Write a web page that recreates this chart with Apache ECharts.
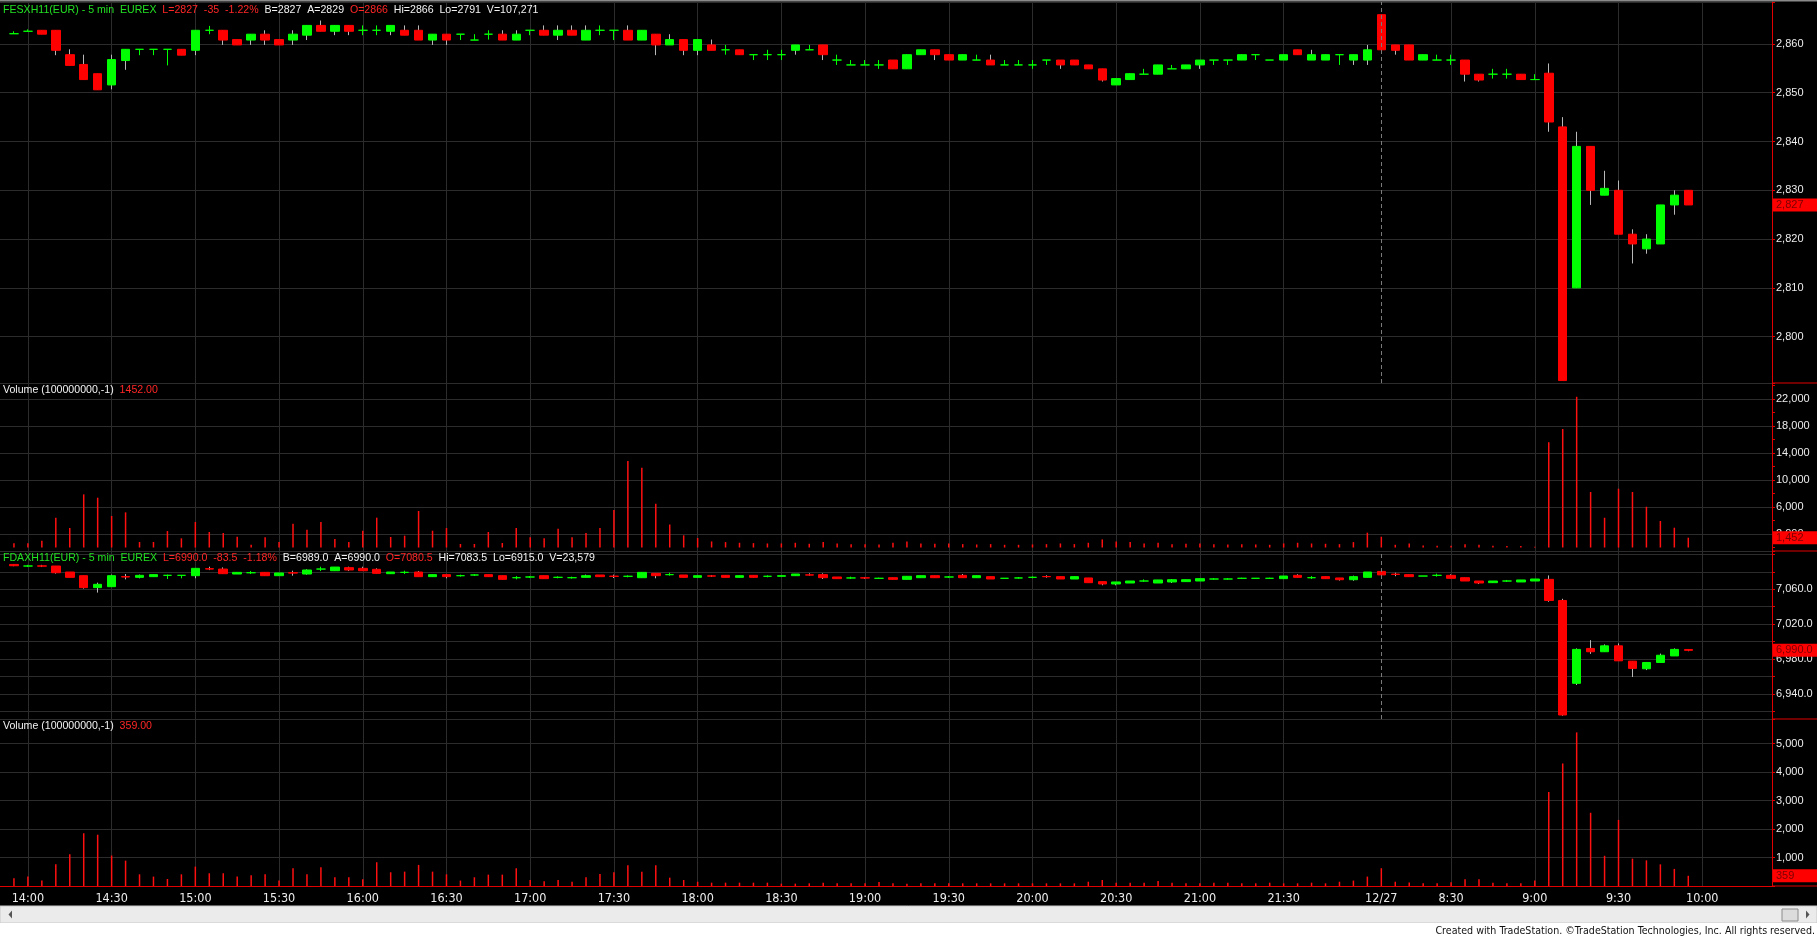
<!DOCTYPE html>
<html><head><meta charset="utf-8">
<script src="https://cdn.jsdelivr.net/npm/echarts@6/dist/echarts.min.js"></script>
<style>html,body{margin:0;padding:0;background:#000;overflow:hidden}#c{width:1817px;height:938px}</style>
</head><body><div id="c"></div><script>
// ---------- categories (5-minute bars) ----------
const day1Label = '12/23', day2Label = '12/27';
const padBefore = ['13:50'];
const day1Times = ['13:55',
 '14:00','14:05','14:10','14:15','14:20','14:25','14:30','14:35','14:40','14:45','14:50','14:55',
 '15:00','15:05','15:10','15:15','15:20','15:25','15:30','15:35','15:40','15:45','15:50','15:55',
 '16:00','16:05','16:10','16:15','16:20','16:25','16:30','16:35','16:40','16:45','16:50','16:55',
 '17:00','17:05','17:10','17:15','17:20','17:25','17:30','17:35','17:40','17:45','17:50','17:55',
 '18:00','18:05','18:10','18:15','18:20','18:25','18:30','18:35','18:40','18:45','18:50','18:55',
 '19:00','19:05','19:10','19:15','19:20','19:25','19:30','19:35','19:40','19:45','19:50','19:55',
 '20:00','20:05','20:10','20:15','20:20','20:25','20:30','20:35','20:40','20:45','20:50','20:55',
 '21:00','21:05','21:10','21:15','21:20','21:25','21:30','21:35','21:40','21:45','21:50','21:55',
 '22:00'];
const day2Times = ['8:05','8:10','8:15','8:20','8:25','8:30','8:35','8:40','8:45','8:50','8:55',
 '9:00','9:05','9:10','9:15','9:20','9:25','9:30','9:35','9:40','9:45','9:50','9:55'];
const padAfter = ['10:00','10:05','10:10','10:15','10:20','10:25'];
const day1GridTimes = ['14:00','14:30','15:00','15:30','16:00','16:30','17:00','17:30','18:00','18:30','19:00','19:30','20:00','20:30','21:00','21:30'];
const day2GridTimes = ['8:30','9:00','9:30','10:00'];

// ---------- FESX (Euro Stoxx 50 future) ----------
const fesxOpen = [2862.1,2862.6,2862.8,2862.8,2857.8,2855.8,2853.9,2851.6,2856.6,2858.9,
2858.9,2858.9,2858.9,2858.7,2862.8,2862.8,2860.9,2860.8,2862.0,2860.9,
2860.8,2861.8,2863.8,2862.6,2863.8,2862.8,2862.8,2862.6,2862.8,2862.8,
2860.8,2862.0,2862.0,2860.8,2862.0,2862.0,2860.8,2862.8,2862.8,2861.8,
2862.8,2860.8,2862.8,2862.8,2862.8,2860.8,2862.0,2859.8,2860.9,2858.7,
2859.8,2858.8,2858.8,2857.8,2857.8,2857.8,2858.7,2858.8,2859.8,2856.7,
2855.7,2855.7,2855.7,2856.7,2854.9,2857.8,2858.8,2857.8,2856.7,2856.7,
2856.7,2855.7,2855.7,2855.7,2856.7,2856.7,2856.7,2855.7,2854.9,2851.6,
2852.7,2853.8,2853.8,2854.9,2854.9,2855.7,2856.7,2856.7,2856.7,2857.8,
2856.7,2856.7,2858.8,2856.7,2856.7,2857.8,2856.7,2856.7,2866.0,2859.8,
2859.8,2856.7,2856.7,2856.7,2856.7,2853.8,2853.8,2853.8,2853.8,2852.7,
2854,2843,2810,2839,2829,2830,2821,2818,2819,2827,2830];
const fesxClose = [2862.1,2862.6,2862.0,2858.7,2855.6,2852.7,2850.6,2856.8,2858.9,2858.9,
2858.9,2858.9,2857.7,2862.8,2862.8,2860.8,2859.8,2862.0,2860.8,2859.8,
2862.0,2863.8,2862.6,2863.8,2862.6,2862.8,2862.8,2863.8,2861.8,2860.8,
2862.0,2860.8,2862.0,2860.8,2862.0,2860.8,2862.0,2862.8,2861.8,2862.8,
2861.8,2862.8,2862.8,2862.8,2860.8,2862.8,2859.8,2860.9,2858.7,2860.9,
2858.7,2858.8,2857.8,2857.8,2857.8,2857.8,2859.8,2858.8,2857.8,2856.7,
2855.7,2855.7,2855.7,2854.9,2857.8,2858.8,2857.8,2856.7,2857.8,2856.7,
2855.7,2855.7,2855.7,2855.7,2856.7,2855.7,2855.7,2854.9,2852.6,2852.9,
2853.9,2853.8,2855.7,2854.9,2855.7,2856.7,2856.7,2856.7,2857.8,2857.8,
2856.7,2857.8,2857.8,2857.8,2857.8,2857.8,2857.8,2858.8,2858.8,2858.7,
2856.7,2857.8,2856.7,2856.7,2853.8,2852.6,2853.8,2853.8,2852.7,2852.7,
2844,2791,2839,2830,2830.4,2821,2819,2820,2827,2829,2827];
const fesxLow = [2862.1,2862.6,2862.0,2857.7,2855.6,2852.7,2850.6,2850.7,2854.7,2857.7,
2857.7,2855.6,2857.7,2857.7,2862.0,2859.8,2859.8,2859.8,2859.8,2859.8,
2859.8,2860.8,2862.6,2861.8,2861.8,2861.8,2861.8,2861.8,2861.8,2860.8,
2859.8,2859.8,2860.8,2860.8,2860.9,2860.8,2860.8,2861.8,2861.8,2860.8,
2861.8,2860.8,2861.8,2860.8,2860.8,2860.8,2857.7,2859.8,2857.7,2857.7,
2858.7,2857.8,2857.8,2856.7,2856.7,2856.7,2857.8,2858.8,2856.7,2855.7,
2855.7,2855.7,2854.9,2854.9,2854.9,2857.8,2856.7,2856.7,2856.7,2856.7,
2855.7,2855.7,2855.7,2854.9,2855.7,2854.9,2855.7,2854.9,2852.3,2851.6,
2852.7,2853.8,2853.8,2854.9,2854.9,2854.9,2855.7,2855.7,2856.7,2856.7,
2856.7,2856.7,2857.8,2856.7,2856.7,2855.7,2855.7,2855.7,2858.0,2857.8,
2856.7,2856.7,2856.7,2855.7,2852.3,2852.3,2852.9,2852.9,2852.7,2852.7,
2842,2791,2810,2827,2829,2821,2815,2817,2819,2825,2827];
const fesxHigh = [2862.6,2863.0,2862.8,2862.8,2858.9,2857.8,2853.9,2857.8,2858.9,2858.9,
2858.9,2858.9,2858.9,2862.8,2863.7,2862.8,2860.9,2862.0,2862.8,2860.9,
2862.8,2863.8,2864.8,2863.8,2863.8,2863.8,2863.8,2863.8,2863.8,2863.8,
2862.0,2862.0,2862.0,2862.0,2862.8,2862.8,2862.8,2862.8,2863.8,2863.8,
2863.8,2863.8,2863.8,2862.8,2863.8,2862.8,2862.0,2862.0,2860.9,2860.9,
2860.9,2859.8,2858.8,2857.8,2858.8,2858.8,2859.8,2859.8,2859.8,2857.8,
2856.7,2856.7,2856.7,2856.7,2857.8,2858.8,2858.8,2857.8,2857.8,2857.8,
2857.8,2856.7,2856.7,2856.7,2856.7,2856.7,2856.7,2855.7,2854.9,2852.9,
2853.9,2854.9,2855.7,2855.7,2855.7,2856.7,2856.7,2856.7,2857.8,2857.8,
2856.7,2857.8,2858.8,2858.8,2857.8,2857.8,2857.8,2859.8,2866.0,2859.8,
2859.8,2857.8,2857.8,2857.8,2856.7,2853.8,2854.9,2854.9,2853.8,2853.8,
2856,2845,2842,2839,2834,2832,2822,2821,2827,2830,2830];
const fesxVol = [620,620,1010,4420,2890,7870,7380,4670,5210,820,
820,2440,1360,3780,2300,2150,1600,420,1510,820,
3530,2640,3780,1260,820,2490,4420,1560,1750,5410,
2490,2890,520,520,2300,670,2890,1510,1360,2790,
1510,2150,2890,5550,12800,11800,6500,3400,1800,1400,
900,800,700,650,600,600,700,550,800,600,
500,500,450,700,900,600,550,600,500,450,
500,400,400,450,500,600,500,700,1200,900,
800,600,700,500,550,600,500,450,500,450,
400,600,700,600,550,500,800,2200,1600,400,
600,300,250,250,500,400,250,220,220,120,
15580,17550,22330,8220,4410,8710,8220,6040,3925,2930,1452];

// ---------- FDAX (DAX future) ----------
const fdaxOpen = [7088.5,7086.7,7086.9,7086.7,7079.8,7075.6,7061.9,7063.0,7074.5,7073.7,
7074.5,7076.0,7076.0,7075.6,7083.6,7083.2,7077.5,7079.0,7079.4,7075.6,
7079.0,7077.5,7083.2,7081.3,7084.8,7084.0,7082.9,7077.9,7079.4,7079.8,
7074.5,7076.8,7075.6,7076.4,7076.8,7075.6,7073.3,7074.1,7075.6,7073.7,
7073.3,7073.7,7076.4,7075.1,7074.9,7073.3,7078.3,7076.8,7076.4,7073.7,
7075.4,7076.0,7073.7,7076.0,7074.9,7074.9,7075.6,7076.6,7076.8,7074.1,
7073.0,7073.2,7072.6,7073.3,7071.4,7073.3,7075.6,7074.1,7076.0,7073.3,
7074.5,7072.6,7073.0,7073.7,7074.7,7074.5,7071.8,7073.0,7068.8,7066.1,
7067.2,7069.5,7067.2,7068.4,7068.8,7069.5,7071.8,7071.8,7072.6,7072.6,
7072.6,7072.2,7076.0,7073.3,7074.5,7073.0,7071.0,7073.7,7080.5,7077.4,
7076.8,7075.2,7076.0,7076.0,7073.3,7069.5,7067.6,7069.5,7068.4,7069.5,
7071.4,7047.2,6952.2,6992.2,6988.4,6995.2,6977.6,6968.9,6976.1,6983.6,6991.0];
const fdaxClose = [7087.0,7086.7,7086.5,7079.0,7073.7,7061.9,7065.7,7075.6,7074.1,7076.0,
7076.8,7076.0,7076.0,7084.0,7083.2,7077.9,7079.4,7079.0,7075.6,7078.7,
7078.6,7082.1,7083.2,7085.5,7082.1,7081.3,7078.3,7079.8,7079.4,7074.5,
7076.8,7074.5,7075.6,7076.4,7074.5,7071.4,7073.3,7074.1,7072.2,7073.7,
7073.3,7075.6,7074.5,7074.8,7074.9,7079.4,7075.6,7076.8,7073.7,7075.6,
7075.1,7073.7,7075.6,7073.7,7074.9,7075.6,7077.5,7076.3,7073.3,7072.2,
7073.0,7072.9,7072.6,7071.4,7074.9,7075.6,7073.3,7074.1,7073.3,7075.6,
7071.8,7072.6,7073.0,7073.7,7074.4,7071.8,7074.5,7067.6,7066.1,7068.4,
7069.5,7069.5,7070.7,7071.0,7071.0,7072.2,7071.8,7071.8,7072.6,7072.6,
7072.6,7075.2,7073.7,7073.3,7072.2,7071.0,7074.5,7079.8,7076.5,7077.0,
7074.5,7075.2,7076.0,7072.6,7069.5,7067.2,7069.5,7069.5,7070.7,7071.8,
7047.2,6915.9,6991.1,6988.4,6995.2,6978.0,6969.3,6976.1,6984.4,6991.1,6990.0];
const fdaxLow = [7086.5,7085.5,7085.5,7078.0,7073.7,7060.8,7056.2,7063.0,7071.4,7072.6,
7074.5,7071.8,7072.6,7072.6,7082.0,7077.9,7077.5,7077.5,7075.6,7075.6,
7075.6,7076.8,7080.9,7081.3,7080.9,7081.3,7078.3,7077.9,7077.5,7074.5,
7074.5,7072.6,7074.5,7075.2,7074.5,7071.4,7071.4,7073.0,7072.2,7072.6,
7072.2,7073.7,7074.5,7072.9,7073.7,7073.3,7072.6,7075.6,7073.7,7073.7,
7074.1,7073.7,7073.7,7073.7,7073.7,7074.9,7075.6,7075.6,7071.8,7072.2,
7071.8,7071.8,7071.8,7071.4,7071.4,7073.3,7073.3,7073.0,7073.3,7073.3,
7071.8,7072.6,7072.2,7072.6,7073.3,7071.8,7071.8,7067.6,7064.6,7064.6,
7067.2,7068.4,7067.2,7067.2,7068.8,7069.5,7071.0,7071.0,7071.8,7072.6,
7071.8,7072.2,7073.7,7071.8,7072.2,7070.0,7069.8,7073.7,7076.5,7075.0,
7074.5,7075.2,7074.5,7072.6,7069.5,7066.0,7067.6,7068.4,7068.4,7069.5,
7045.7,6915.0,6950.3,6986.0,6988.4,6978.0,6959.4,6967.4,6976.1,6983.6,6989.0];
const fdaxHigh = [7089.0,7088.0,7088.0,7086.7,7079.8,7075.6,7067.6,7076.8,7077.5,7076.8,
7076.8,7076.8,7076.0,7084.0,7085.9,7085.1,7079.4,7080.9,7079.4,7078.7,
7081.3,7082.9,7085.9,7085.5,7085.9,7085.9,7084.0,7079.8,7081.3,7081.0,
7076.8,7076.8,7076.8,7077.5,7076.8,7075.6,7075.2,7075.2,7075.6,7074.9,
7074.5,7076.8,7076.4,7076.8,7076.0,7079.4,7078.3,7079.0,7076.4,7075.6,
7076.4,7076.0,7075.6,7076.0,7076.0,7075.6,7077.5,7078.3,7078.3,7074.1,
7074.5,7074.1,7073.3,7073.3,7074.9,7075.6,7075.6,7075.2,7077.5,7075.6,
7074.5,7072.6,7074.1,7074.9,7076.0,7074.5,7074.5,7073.0,7068.8,7068.4,
7069.5,7071.4,7070.7,7071.8,7071.0,7072.2,7072.9,7072.9,7073.3,7072.6,
7073.3,7075.2,7077.2,7075.2,7074.5,7073.0,7075.6,7079.8,7083.5,7079.0,
7076.8,7075.2,7077.9,7077.2,7073.3,7069.5,7069.5,7070.7,7070.7,7071.8,
7075.9,7049.1,6992.2,7001.7,6996.8,6997.9,6977.6,6976.1,6986.3,6992.2,6991.5];
const fdaxVol = [270,330,190,760,1115,1850,1800,1070,890,410,
330,246,410,680,447,447,330,376,410,190,
623,410,658,306,306,235,834,482,504,740,
504,410,190,306,398,398,623,211,165,211,
150,306,422,482,728,504,728,292,211,150,
117,117,117,117,117,82,82,94,117,94,
94,94,140,94,82,94,94,94,94,94,
94,94,94,94,94,94,94,150,211,117,
117,117,176,117,94,94,117,117,94,94,
117,94,94,117,94,150,190,330,623,150,
120,100,100,130,235,235,117,94,94,190,
3300,4300,5390,2570,1060,2320,960,900,760,600,359];

// ---------- axis tick labels ----------
const fesxTicks = [2800,2810,2820,2830,2840,2850,2860];
const fesxVolTicks = [2000,6000,10000,14000,18000,22000];
const fdaxTicks = [6940,6980,7020,7060];
const fdaxVolTicks = [1000,2000,3000,4000,5000];

// ---------- build ----------
const cats = [].concat(
  padBefore.map(t => day1Label + ' ' + t),
  day1Times.map(t => day1Label + ' ' + t),
  day2Times.map(t => day2Label + ' ' + t),
  padAfter.map(t => day2Label + ' ' + t));
const firstDay2 = day2Label + ' ' + day2Times[0];
const lead = padBefore.length, tail = padAfter.length;

const UP = '#00ff00', DOWN = '#ff0000', WICK = '#b8b8b8', GRID = '#2c2c2c', AX = '#e00000';
const EMPTY4 = ['-','-','-','-'];

function wickData(o, c, l, h) {
  const out = [];
  for (let i = 0; i < lead; i++) out.push(EMPTY4);
  o.forEach((v, i) => {
    const item = { value: [v, c[i], l[i], h[i]] };
    if (v === c[i]) item.itemStyle = { borderColor: UP, borderColor0: UP, borderColorDoji: UP };
    out.push(item);
  });
  for (let i = 0; i < tail; i++) out.push(EMPTY4);
  return out;
}
function bodyData(o, c) {
  const out = [];
  for (let i = 0; i < lead; i++) out.push(EMPTY4);
  o.forEach((v, i) => {
    const item = { value: [v, c[i], Math.min(v, c[i]), Math.max(v, c[i])] };
    if (v === c[i]) item.itemStyle = { color: UP, color0: UP, borderColor: UP, borderColor0: UP, borderColorDoji: UP };
    out.push(item);
  });
  for (let i = 0; i < tail; i++) out.push(EMPTY4);
  return out;
}
function volData(v) {
  return [].concat(padBefore.map(() => '-'), v, padAfter.map(() => '-'));
}

function isGridCat(idx, val) {
  const p = val.split(' ');
  return (p[0] === day1Label && day1GridTimes.indexOf(p[1]) >= 0) ||
         (p[0] === day2Label && day2GridTimes.indexOf(p[1]) >= 0);
}
function isLabelCat(idx, val) { return isGridCat(idx, val) || val === firstDay2; }

const FONT = 'Liberation Sans';
const NARROW = "'Liberation Sans Narrow', 'DejaVu Sans Condensed', 'Liberation Sans'";

function fmt0(v) { return Math.round(v).toLocaleString('en-US'); }
function fmt1(v) { return v.toLocaleString('en-US', { minimumFractionDigits: 1, maximumFractionDigits: 1 }); }

const gridsPx = [
  { top: 2, height: 381 },
  { top: 383, height: 168 },
  { top: 551, height: 168 },
  { top: 719, height: 167 }
];

function makeX(i) {
  const bottom = i === 3;
  return {
    type: 'category', gridIndex: i, data: cats, boundaryGap: false,
    axisLine: { show: bottom, onZero: false, lineStyle: { color: AX, width: 1 } },
    axisTick: { show: false },
    axisLabel: {
      show: bottom, interval: isLabelCat, color: '#ececec', fontSize: 12.5, fontFamily: NARROW, margin: 6,
      formatter: v => v === firstDay2 ? day2Label : v.split(' ')[1]
    },
    splitLine: { show: true, interval: isGridCat, lineStyle: { color: GRID, width: 1 } }
  };
}
function makeY(i, o) {
  return Object.assign({
    type: 'value', gridIndex: i, position: 'right', scale: true,
    axisLine: { show: true, lineStyle: { color: AX, width: 1 } },
    axisTick: { show: true, length: 3, lineStyle: { color: AX } },
    splitLine: { show: true, lineStyle: { color: GRID, width: 1 } }
  }, o);
}
function lastLabel(value, text) {
  return {
    yAxis: value,
    lineStyle: { color: 'rgba(0,0,0,0)', width: 0, opacity: 1 },
    label: {
      show: true, position: 'end', distance: 1, formatter: text, opacity: 1,
      backgroundColor: '#ff0000', color: '#7a0000', fontSize: 11, fontFamily: FONT,
      padding: [1, 2, 1, 3], width: 39, lineHeight: 11
    }
  };
}
const dashedSep = { xAxis: firstDay2, lineStyle: { type: [4, 3], color: '#7a7a7a', width: 1, opacity: 1 }, label: { show: false } };

const HF = 10.6;
const richStyles = {
  g: { color: '#22e022', fontSize: HF, fontFamily: FONT, lineHeight: 12 },
  r: { color: '#ff2626', fontSize: HF, fontFamily: FONT, lineHeight: 12 },
  w: { color: '#f2f2f2', fontSize: HF, fontFamily: FONT, lineHeight: 12 }
};
function header(top, text) {
  return { left: 3, top: top, padding: 0, text: text,
    textStyle: { fontSize: HF, fontWeight: 'normal', fontFamily: FONT, color: '#f2f2f2', lineHeight: 12, rich: richStyles } };
}

const lastFesx = fesxClose[fesxClose.length - 1];
const lastFdax = fdaxClose[fdaxClose.length - 1];
const lastFesxVol = fesxVol[fesxVol.length - 1];
const lastFdaxVol = fdaxVol[fdaxVol.length - 1];

const option = {
  backgroundColor: '#000',
  animation: false,
  textStyle: { fontFamily: FONT },
  title: [
    header(4, '{g|FESXH11(EUR) - 5 min  EUREX}  {r|L=2827  -35  -1.22%}  {w|B=2827  A=2829}  {r|O=2866}  {w|Hi=2866  Lo=2791  V=107,271}'),
    header(384, '{w|Volume (100000000,-1)}  {r|1452.00}'),
    header(552, '{g|FDAXH11(EUR) - 5 min  EUREX}  {r|L=6990.0  -83.5  -1.18%}  {w|B=6989.0  A=6990.0}  {r|O=7080.5}  {w|Hi=7083.5  Lo=6915.0  V=23,579}'),
    header(720.5, '{w|Volume (100000000,-1)}  {r|359.00}')
  ],
  grid: gridsPx.map(g => ({ left: -7, right: 45, top: g.top, height: g.height, containLabel: false })),
  xAxis: [makeX(0), makeX(1), makeX(2), makeX(3)],
  yAxis: [
    makeY(0, { min: 2790.5, max: 2868.6, splitNumber: 8,
      axisLabel: { color: '#ececec', fontSize: 11, margin: 4, fontFamily: FONT,
        formatter: v => fesxTicks.indexOf(v) >= 0 ? fmt0(v) : '' } }),
    makeY(1, { min: -518, max: 24370, splitNumber: 12,
      splitLine: { show: false },
      axisLabel: { color: '#ececec', fontSize: 11, margin: 4, fontFamily: FONT,
        formatter: v => fesxVolTicks.indexOf(v) >= 0 ? fmt0(v) : '' } }),
    makeY(2, { min: 6911.3, max: 7103.9, splitNumber: 10,
      axisLabel: { color: '#ececec', fontSize: 11, margin: 4, fontFamily: FONT,
        formatter: v => fdaxTicks.indexOf(v) >= 0 ? fmt1(v) : '' } }),
    makeY(3, { min: 0, max: 5860, interval: 1000,
      axisLabel: { color: '#ececec', fontSize: 11, margin: 4, fontFamily: FONT,
        formatter: v => fdaxVolTicks.indexOf(v) >= 0 ? fmt0(v) : '' } })
  ],
  series: [
    { type: 'candlestick', xAxisIndex: 0, yAxisIndex: 0, barWidth: 1, clip: false,
      itemStyle: { color: 'transparent', color0: 'transparent', borderColor: WICK, borderColor0: WICK, borderColorDoji: WICK, borderWidth: 1 },
      data: wickData(fesxOpen, fesxClose, fesxLow, fesxHigh),
      markLine: { symbol: 'none', silent: true, animation: false, data: [dashedSep] } },
    { type: 'candlestick', xAxisIndex: 0, yAxisIndex: 0, barWidth: 9, clip: false,
      itemStyle: { color: UP, color0: DOWN, borderColor: UP, borderColor0: DOWN, borderColorDoji: UP, borderWidth: 1 },
      data: bodyData(fesxOpen, fesxClose),
      markLine: { symbol: 'none', silent: true, animation: false, z: 20, data: [lastLabel(lastFesx, fmt0(lastFesx))] } },
    { type: 'bar', xAxisIndex: 1, yAxisIndex: 1, barWidth: 1.5, itemStyle: { color: '#ff1010' },
      data: volData(fesxVol),
      markLine: { symbol: 'none', silent: true, animation: false, z: 1,
        data: fesxVolTicks.map(v => ({ yAxis: v, lineStyle: { color: GRID, width: 1, type: 'solid' }, label: { show: false } })) } },
    { type: 'line', xAxisIndex: 1, yAxisIndex: 1, data: [], silent: true,
      markLine: { symbol: 'none', silent: true, animation: false, z: 20, data: [lastLabel(lastFesxVol, fmt0(lastFesxVol))] } },
    { type: 'candlestick', xAxisIndex: 2, yAxisIndex: 2, barWidth: 1, clip: false,
      itemStyle: { color: 'transparent', color0: 'transparent', borderColor: WICK, borderColor0: WICK, borderColorDoji: WICK, borderWidth: 1 },
      data: wickData(fdaxOpen, fdaxClose, fdaxLow, fdaxHigh),
      markLine: { symbol: 'none', silent: true, animation: false, data: [dashedSep] } },
    { type: 'candlestick', xAxisIndex: 2, yAxisIndex: 2, barWidth: 9, clip: false,
      itemStyle: { color: UP, color0: DOWN, borderColor: UP, borderColor0: DOWN, borderColorDoji: UP, borderWidth: 1 },
      data: bodyData(fdaxOpen, fdaxClose),
      markLine: { symbol: 'none', silent: true, animation: false, z: 20, data: [lastLabel(lastFdax, fmt1(lastFdax))] } },
    { type: 'bar', xAxisIndex: 3, yAxisIndex: 3, barWidth: 1.5, itemStyle: { color: '#ff1010' },
      data: volData(fdaxVol),
      markLine: { symbol: 'none', silent: true, animation: false, z: 20,
        data: [lastLabel(lastFdaxVol, fmt0(lastFdaxVol))] } }
  ],
  graphic: [
    { type: 'rect', silent: true, z: 100, shape: { x: 0, y: 0, width: 1817, height: 1.5 }, style: { fill: '#8a8a8a' } },
    { type: 'line', silent: true, z: 100, shape: { x1: 1772, y1: 383, x2: 1817, y2: 383 }, style: { stroke: AX, lineWidth: 1 } },
    { type: 'line', silent: true, z: 100, shape: { x1: 1772, y1: 551, x2: 1817, y2: 551 }, style: { stroke: AX, lineWidth: 1 } },
    { type: 'line', silent: true, z: 100, shape: { x1: 1772, y1: 719, x2: 1817, y2: 719 }, style: { stroke: AX, lineWidth: 1 } },
    { type: 'line', silent: true, z: 100, shape: { x1: 1772, y1: 886, x2: 1817, y2: 886 }, style: { stroke: AX, lineWidth: 1 } },
    { type: 'rect', silent: true, z: 100, shape: { x: 0, y: 906, width: 1817, height: 17 }, style: { fill: '#ebebeb', stroke: '#c9c9c9', lineWidth: 1 } },
    { type: 'rect', silent: true, z: 100, shape: { x: 0, y: 923, width: 1817, height: 15 }, style: { fill: '#ffffff' } },
    { type: 'polygon', silent: true, z: 101, shape: { points: [[12, 910.5], [8.5, 914.5], [12, 918.5]] }, style: { fill: '#555' } },
    { type: 'rect', silent: true, z: 101, shape: { x: 1782, y: 909, width: 16, height: 12 }, style: { fill: '#dcdcdc', stroke: '#8c8c8c', lineWidth: 1 } },
    { type: 'polygon', silent: true, z: 101, shape: { points: [[1806, 910.5], [1809.5, 914.5], [1806, 918.5]] }, style: { fill: '#555' } },
    { type: 'text', silent: true, z: 101, style: { x: 1815, y: 931, align: 'right', verticalAlign: 'middle',
      text: 'Created with TradeStation. ©TradeStation Technologies, Inc. All rights reserved.',
      font: "10.6px 'Liberation Sans Narrow', 'DejaVu Sans Condensed', 'Liberation Sans'", fill: '#111' } }
  ]
};

const chart = echarts.init(document.getElementById('c'), null, { renderer: 'canvas' });
chart.setOption(option);
</script></body></html>
